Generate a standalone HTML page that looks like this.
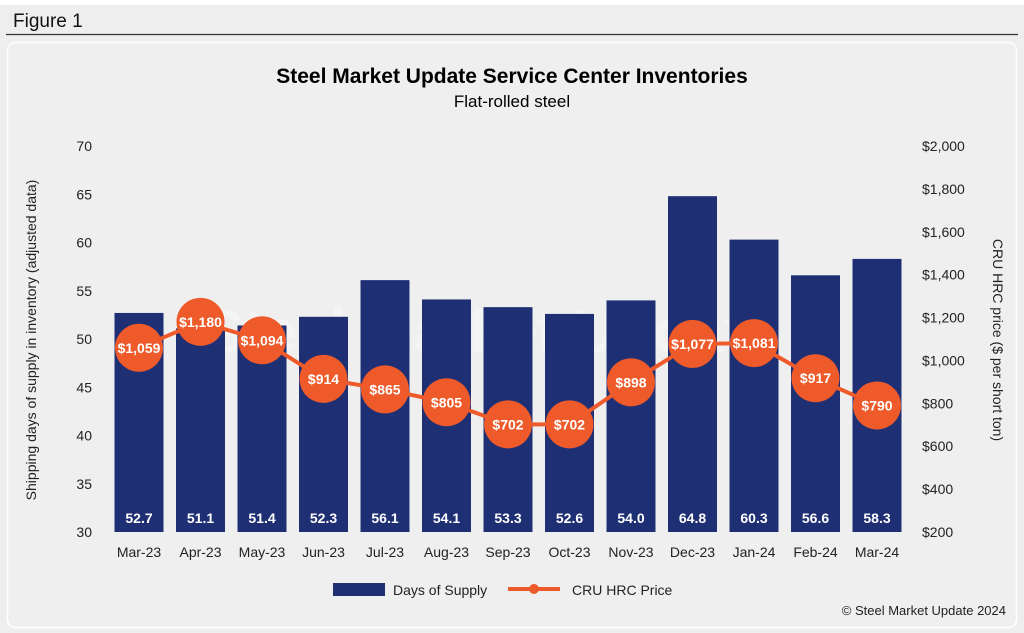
<!DOCTYPE html>
<html><head><meta charset="utf-8"><style>
body{margin:0;width:1024px;height:633px;background:#eeeeee;font-family:"Liberation Sans",Arial,sans-serif;overflow:hidden}
</style></head><body>
<svg width="1024" height="633" style="position:absolute;left:0;top:0">
<rect x="0" y="0" width="1024" height="5" fill="#fff"/>
<text x="13" y="27" font-size="19" fill="#111">Figure 1</text>
<line x1="6" y1="34.5" x2="1018" y2="34.5" stroke="#333" stroke-width="1.2"/>
<rect x="7.5" y="42.5" width="1009" height="585" rx="8" fill="#efefef" stroke="#fff" stroke-width="1.5"/>
<text x="512" y="83" font-size="21" font-weight="bold" text-anchor="middle" fill="#000">Steel Market Update Service Center Inventories</text>
<text x="512" y="107" font-size="17" text-anchor="middle" fill="#000">Flat-rolled steel</text>
<text x="490" y="352" font-size="60" font-weight="bold" text-anchor="middle" fill="#fff" opacity="0.35">Steel Market Update</text>
<text transform="translate(36,340) rotate(-90)" font-size="14" text-anchor="middle" fill="#222">Shipping days of supply in inventory (adjusted data)</text>
<text transform="translate(993,340) rotate(90)" font-size="14" text-anchor="middle" fill="#222">CRU HRC price ($ per short ton)</text>
<g id="axes"></g><g id="bars"></g><g id="line"></g>
<rect x="333" y="583" width="52" height="13" fill="#1f2f74"/>
<text x="393" y="595" font-size="14" fill="#222">Days of Supply</text>
<line x1="508" y1="589" x2="560" y2="589" stroke="#ee5a2a" stroke-width="4"/>
<circle cx="534" cy="589" r="5" fill="#ee5a2a"/>
<text x="572" y="595" font-size="14" fill="#222">CRU HRC Price</text>
<text x="1006" y="615" font-size="13" text-anchor="end" fill="#222">© Steel Market Update 2024</text>
</svg>
<script>
const categories=["Mar-23","Apr-23","May-23","Jun-23","Jul-23","Aug-23","Sep-23","Oct-23","Nov-23","Dec-23","Jan-24","Feb-24","Mar-24"];
const daysSupply=[52.7,51.1,51.4,52.3,56.1,54.1,53.3,52.6,54.0,64.8,60.3,56.6,58.3];
const hrcPrice=[1059,1180,1094,914,865,805,702,702,898,1077,1081,917,790];
const leftTicks=[30,35,40,45,50,55,60,65,70];
const rightTicks=[200,400,600,800,1000,1200,1400,1600,1800,2000];
const NS="http://www.w3.org/2000/svg";
const yL=v=>532-(v-30)/40*386;
const yR=v=>532-(v-200)/1800*386;
const xC=i=>139+i*61.5;
function mk(tag,attrs,parent,txt){const e=document.createElementNS(NS,tag);for(const k in attrs)e.setAttribute(k,attrs[k]);if(txt!==undefined)e.textContent=txt;parent.appendChild(e);return e;}
const ax=document.getElementById('axes'),bg=document.getElementById('bars'),lg=document.getElementById('line');
leftTicks.forEach(t=>{const e=mk('text',{x:92,y:yL(t)+5,'font-size':14,'text-anchor':'end',fill:'#222'},ax,String(t));

});
rightTicks.forEach(t=>{const e=mk('text',{x:922,y:yR(t)+5,'font-size':14,fill:'#222'},ax,'$'+t.toLocaleString('en-US'));

});
categories.forEach((c,i)=>{const e=mk('text',{x:xC(i),y:557,'font-size':14,'text-anchor':'middle',fill:'#222'},ax,c);

});
daysSupply.forEach((v,i)=>{const r=mk('rect',{x:xC(i)-24.5,y:yL(v),width:49,height:532-yL(v),fill:'#1f2f74'},bg);


const t=mk('text',{x:xC(i),y:523,'font-size':14,'font-weight':'bold','text-anchor':'middle',fill:'#fff'},bg,v.toFixed(1));

});
const pts=hrcPrice.map((v,i)=>xC(i)+','+yR(v)).join(' ');
const pl=mk('polyline',{points:pts,fill:'none',stroke:'#ee5a2a','stroke-width':4},lg);


hrcPrice.forEach((v,i)=>{const c=mk('circle',{cx:xC(i),cy:yR(v),r:24,fill:'#ee5a2a'},lg);


const t=mk('text',{x:xC(i),y:yR(v)+5,'font-size':14,'font-weight':'bold','text-anchor':'middle',fill:'#fff'},lg,'$'+v.toLocaleString('en-US'));

});
</script>
</body></html>
